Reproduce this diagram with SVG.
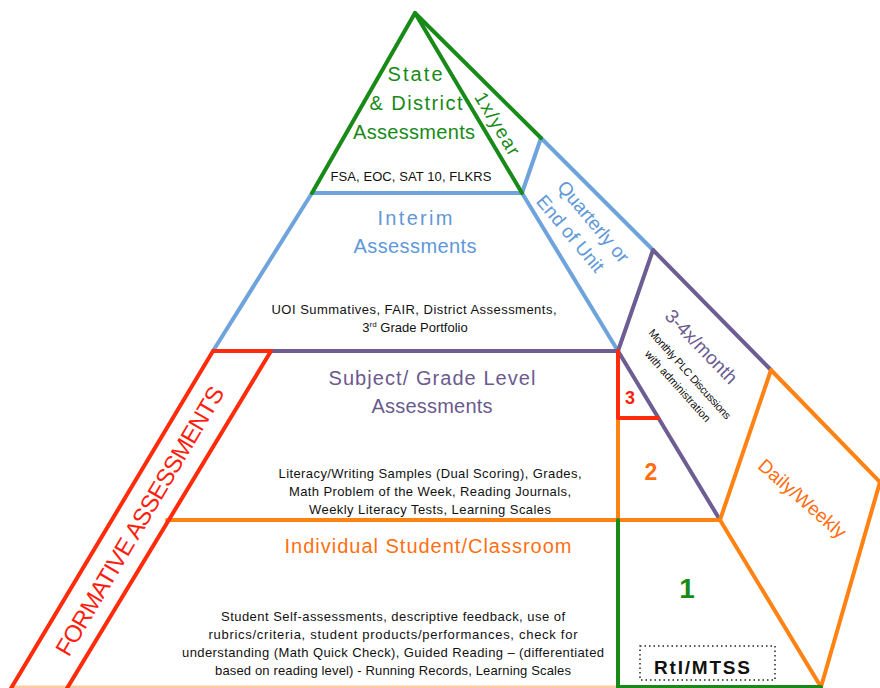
<svg xmlns="http://www.w3.org/2000/svg" width="880" height="688" viewBox="0 0 880 688">
<style>
  text { font-family: "Liberation Sans", Arial, sans-serif; }
  .ln { fill: none; stroke-width: 4; stroke-linecap: round; stroke-linejoin: round; }
  .g { stroke: #178a17; }
  .bl { stroke: #6fa3dc; }
  .p { stroke: #6e5d92; }
  .r { stroke: #ff2b0a; }
  .o { stroke: #ff8212; }
  .h { font-size: 20px; text-anchor: middle; }
  .s { font-size: 13px; text-anchor: middle; fill: #111; }
  .tg { fill: #178a17; }
  .tb { fill: #5e98d8; }
  .tp { fill: #6b5a8e; }
  .to { fill: #ff6f12; }
  .tr { fill: #ff1e10; }
</style>
<rect width="880" height="688" fill="#ffffff"/>

<g id="connectors">
  <line x1="10" y1="687" x2="618" y2="687" stroke="#ffc9a3" stroke-width="3"/>
  <polyline class="ln bl" points="213,351 312,193 522,193 618,351"/>
  <polyline class="ln bl" points="522,193 541,138 653,250"/>
  <line class="ln p" x1="271" y1="351" x2="618" y2="351"/>
  <polyline class="ln p" points="618,351 653,250 771,370"/>
  <line class="ln p" x1="618" y1="351" x2="720" y2="520"/>
  <line class="ln o" x1="167" y1="520" x2="720" y2="520"/>
  <line class="ln o" x1="618" y1="418" x2="618" y2="520"/>
  <polyline class="ln o" points="720,520 771,370 880,482 821,687 720,520"/>
  <polyline class="ln g" points="312,193 415,13 522,193"/>
  <line class="ln g" x1="415" y1="13" x2="541" y2="138"/>
  <polyline class="ln g" points="618,520 618,687 821,687"/>
  <polyline class="ln r" points="10,690 213,351 271,351 66,690"/>
  <polyline class="ln r" points="618,351 618,418 658,418"/>
</g>

<g id="state">
  <text class="h tg" x="415" y="81" textLength="55">State</text>
  <text class="h tg" x="416" y="110" textLength="93">&amp; District</text>
  <text class="h tg" x="414" y="139" textLength="122">Assessments</text>
  <text class="s" x="411" y="181" textLength="161">FSA, EOC, SAT 10, FLKRS</text>
</g>

<g id="freq-year">
  <text class="tg" font-size="19" text-anchor="middle" transform="translate(497,124) rotate(59)" y="6" textLength="70">1x/year</text>
</g>

<g id="interim">
  <text class="h tb" x="415" y="225" textLength="75">Interim</text>
  <text class="h tb" x="415" y="253" textLength="123">Assessments</text>
  <text class="s" x="414" y="314" textLength="285">UOI Summatives, FAIR, District Assessments,</text>
  <text class="s" x="415" y="332">3<tspan font-size="8" dy="-5">rd</tspan><tspan dy="5"> Grade Portfolio</tspan></text>
</g>

<g id="freq-quarterly">
  <text class="tb" font-size="19" text-anchor="middle" transform="translate(593,222) rotate(50)" y="6">Quarterly or</text>
  <text class="tb" font-size="19" text-anchor="middle" transform="translate(570,234) rotate(50)" y="6">End of Unit</text>
</g>

<g id="subject">
  <text class="h tp" x="432" y="385" textLength="207">Subject/ Grade Level</text>
  <text class="h tp" x="432" y="413" textLength="121">Assessments</text>
  <text class="s" x="430" y="478" textLength="303">Literacy/Writing Samples (Dual Scoring), Grades,</text>
  <text class="s" x="430" y="496" textLength="282">Math Problem of the Week, Reading Journals,</text>
  <text class="s" x="430" y="514" textLength="242">Weekly Literacy Tests, Learning Scales</text>
</g>

<g id="freq-month">
  <text class="tp" font-size="19" text-anchor="middle" transform="translate(701,347) rotate(46)" y="6">3-4x/month</text>
  <text fill="#111" font-size="11" text-anchor="middle" transform="translate(690,374) rotate(48)" y="4" textLength="117">Monthly PLC Discussions</text>
  <text fill="#111" font-size="11" text-anchor="middle" transform="translate(678,386) rotate(48)" y="4" textLength="92">with administration</text>
</g>

<g id="individual">
  <text class="h to" x="428" y="553" textLength="287">Individual Student/Classroom</text>
  <text class="s" x="393" y="621" textLength="344">Student Self-assessments, descriptive feedback, use of</text>
  <text class="s" x="393" y="639" textLength="369">rubrics/criteria, student products/performances, check for</text>
  <text class="s" x="393" y="657" textLength="422">understanding (Math Quick Check), Guided Reading – (differentiated</text>
  <text class="s" x="393" y="675" textLength="356">based on reading level) - Running Records, Learning Scales</text>
</g>

<g id="freq-daily">
  <text class="to" font-size="19" text-anchor="middle" transform="translate(802,499) rotate(41)" y="6">Daily/Weekly</text>
</g>

<g id="formative">
  <text class="tr" font-size="24" text-anchor="middle" transform="translate(140,521) rotate(-59.5)" y="8" textLength="308">FORMATIVE ASSESSMENTS</text>
</g>

<g id="rti">
  <text class="tr" font-size="18" font-weight="bold" x="630" y="404" text-anchor="middle">3</text>
  <text class="to" font-size="23" font-weight="bold" x="651" y="480" text-anchor="middle">2</text>
  <text class="tg" font-size="28" font-weight="bold" x="687" y="598" text-anchor="middle">1</text>
  <rect x="640" y="646" width="135" height="34" fill="none" stroke="#222" stroke-width="1.5" stroke-dasharray="1.5,3"/>
  <text font-size="19" font-weight="bold" x="702" y="674" text-anchor="middle" fill="#111" textLength="96">RtI/MTSS</text>
</g>
</svg>
